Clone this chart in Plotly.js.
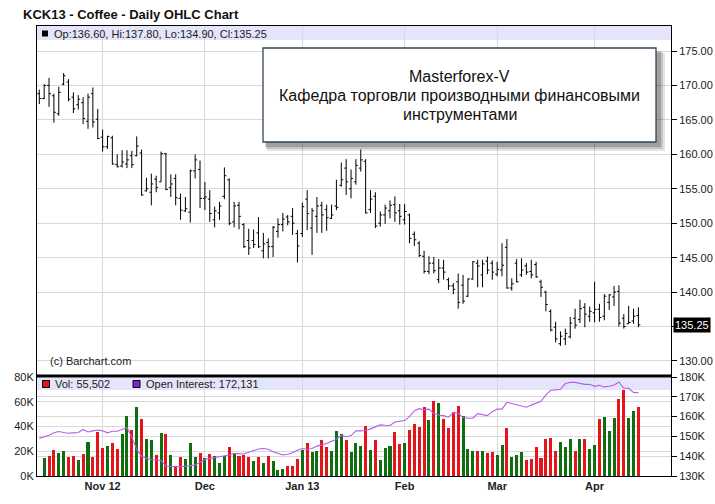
<!DOCTYPE html>
<html>
<head>
<meta charset="utf-8">
<script src="https://cdn.plot.ly/plotly-3.0.1.min.js"></script>
<style>html,body{margin:0;padding:0;background:#fff;}#chart{width:715px;height:504px;}</style>
</head>
<body>
<div id="chart"></div>
<script>
// ---- DATA (trading-day index 0..123, mid-Oct 2012 .. 12 Apr 2013) ----
const opens = [168.8,168.1,170.0,168.5,165.9,170.2,170.5,168.3,167.2,167.5,164.8,168.8,165.1,162.5,161.1,162.4,158.5,158.3,158.6,159.8,
159.8,160.2,154.7,154.5,156.4,156.0,160.1,155.2,156.5,153.6,151.8,151.6,157.6,157.8,153.6,153.5,150.5,151.5,153.9,156.3,
150.2,152.6,149.8,147.5,147.5,148.6,146.0,147.2,146.6,148.8,149.8,150.9,151.0,148.5,148.5,153.5,149.3,151.0,152.6,152.0,
150.7,152.5,155.5,158.0,155.0,156.0,158.0,159.0,152.0,153.9,150.0,151.2,151.8,152.7,151.8,150.5,151.2,148.4,147.1,145.2,
143.0,144.2,141.8,143.5,141.8,140.9,141.5,141.0,139.4,141.9,144.2,142.5,144.5,144.2,142.6,143.2,146.5,140.6,144.2,142.5,
143.8,143.0,144.0,141.5,140.0,137.2,134.9,132.5,133.2,133.5,136.2,136.0,137.8,136.5,137.0,137.5,136.5,138.5,139.3,140.1,
136.2,135.4,135.8,136.60];
const highs = [169.4,170.2,171.1,168.8,169.8,171.8,170.9,169.0,168.6,168.3,168.8,169.7,166.6,163.6,162.7,162.7,160.0,160.6,160.6,160.5,
162.6,160.7,156.6,157.2,156.9,160.4,160.2,157.1,157.1,154.3,153.8,157.8,160.0,159.1,156.0,154.8,152.4,153.1,158.1,156.5,
153.1,153.1,150.0,149.2,149.1,150.9,148.6,147.8,149.6,150.7,151.5,151.2,152.2,149.0,153.0,154.8,152.2,153.8,153.1,152.7,
152.7,156.3,158.8,159.3,157.8,159.3,160.7,159.3,154.8,154.5,151.7,152.7,153.3,153.9,152.8,152.8,151.4,148.8,147.4,146.0,
145.2,145.1,144.8,144.7,142.1,141.3,142.7,142.5,142.0,144.5,144.7,144.7,145.15,144.6,144.4,147.1,147.7,142.0,144.8,144.9,
144.2,144.7,144.4,141.8,140.2,137.5,135.7,134.3,134.7,136.4,137.6,138.9,138.4,137.9,141.5,138.3,139.7,139.7,140.9,141.0,
136.8,138.0,137.6,137.80];
const lows = [167.3,168.0,166.9,164.6,165.6,170.0,167.7,166.0,166.5,164.4,163.7,163.9,162.2,160.4,160.8,158.5,158.1,158.1,158.0,158.0,
159.7,154.0,154.6,152.6,154.5,156.0,154.8,153.8,152.6,150.5,151.6,150.1,156.5,152.2,151.9,150.2,149.4,150.5,153.5,149.7,
149.4,149.1,146.4,145.4,146.4,146.4,144.9,144.9,145.1,147.9,148.8,149.7,148.3,144.3,148.0,149.0,145.4,148.6,148.6,148.9,
150.6,151.9,155.3,154.1,153.6,155.6,157.5,151.4,151.5,149.3,149.5,149.9,150.7,150.2,149.8,149.8,147.1,146.7,145.1,142.7,
142.6,142.7,141.3,141.8,140.3,139.7,137.6,138.3,139.3,141.8,140.7,140.7,142.6,141.8,142.3,142.3,140.5,140.2,141.4,142.2,
142.5,142.0,142.1,139.3,137.2,134.3,132.7,132.2,132.3,133.3,134.7,135.5,134.9,135.7,135.6,135.7,135.9,137.4,138.0,135.0,
134.7,135.4,135.4,134.90];
const closes = [168.1,170.0,168.8,166.1,169.0,171.4,168.0,166.6,168.0,165.2,168.3,164.7,162.3,161.1,162.6,158.6,158.2,158.9,159.2,158.5,
161.2,154.1,155.0,155.7,155.2,160.1,154.9,155.7,153.7,151.9,152.1,157.6,159.2,153.6,153.8,151.4,151.8,152.5,156.9,150.0,
152.5,151.0,146.6,146.4,146.9,146.6,147.0,146.6,149.4,149.8,150.6,150.2,150.0,146.7,152.4,151.4,151.8,152.5,151.2,150.8,
151.2,152.3,156.3,156.0,156.5,158.4,159.2,151.5,153.5,149.6,151.2,152.2,152.6,151.5,151.0,151.7,147.8,147.6,145.3,143.0,
144.2,143.1,143.5,142.9,140.9,140.4,138.5,138.7,141.9,144.4,143.8,144.1,143.2,142.9,143.3,143.9,140.6,141.2,141.5,143.2,
142.9,142.5,142.2,140.7,138.2,134.5,133.2,133.6,134.0,135.5,135.2,137.6,136.8,137.2,137.5,136.3,139.4,139.6,140.0,135.5,
135.0,135.6,136.5,135.25];
const volumes = [null,14500,16000,21000,18500,20000,15500,16000,13000,17700,27400,15300,35500,22600,24200,26600,21800,33900,48400,37100,
55600,46000,29800,29000,17000,34700,33900,17000,8000,15300,13700,26600,15300,18500,14500,17700,16000,10500,16000,23400,
18500,16000,17000,15300,12000,15300,10500,16000,12000,4800,5600,8000,8000,13700,21000,26600,19400,20200,29000,23400,
20200,36300,33900,29000,19400,26600,24000,40800,20800,28800,12800,22700,24000,35200,25600,26400,37300,42400,39200,56000,
45600,60800,59200,46400,38400,52000,56800,48800,21600,20000,20000,20000,18400,19200,16800,24800,38400,15200,16800,19200,
12800,13600,23200,14400,29600,30400,20000,27200,23200,29600,20000,29600,29600,21600,24800,46400,48000,36000,47200,62400,
69600,47200,52800,55502];
const openInterest = [149000,149800,150600,151800,152500,152000,151600,151800,152000,153500,152200,152800,153200,152800,151800,152600,152600,153500,154500,149500,
143500,140000,138900,138300,138000,137800,135000,134700,134700,134700,135000,135000,135500,137000,138300,138900,139300,139700,140200,140600,
141400,141200,141100,142000,143000,143600,143900,143500,142200,141200,140600,141000,141700,143000,143900,143400,143900,145100,145600,146400,
147500,148600,150600,149800,150400,152800,152800,153000,153800,154800,155800,155600,155500,157300,157800,158000,160000,163000,164000,163500,
163800,161500,160800,160500,159700,162000,161700,159500,159200,159200,161500,161000,160500,162500,163800,163800,167200,166600,166000,165300,
164700,165800,166700,167700,171000,173300,173500,173800,176700,177300,177300,176800,176300,176300,175300,175800,175000,175300,176000,177500,
174300,174300,172200,172131];
const monthTickIndex = [13,34,54,75,94,114];
const monthTickText = ['Nov 12','Dec','Jan 13','Feb','Mar','Apr'];
const priceTicks = [130,135,140,145,150,155,160,165,170,175];
const volTicks = [0,20000,40000,60000,80000];
const volTickText = ['0K','20K','40K','60K','80K'];
const oiTicks = [130000,140000,150000,160000,170000,180000];
const oiTickText = ['130K','140K','150K','160K','170K','180K'];
const chartTitle = 'KCK13 - Coffee - Daily OHLC Chart';
const boxLines = ['Masterforex-V','Кафедра торговли производными финансовыми','инструментами'];

// ---- helpers ----
const FONT = 'Liberation Sans, Arial, sans-serif';
const L = 37, R = 671, T = 26, B = 476;
const px = p => (p - L) / (R - L);
const py = p => (B - p) / (B - T);
const idx = closes.map((_, i) => i);
const n = closes.length;
const GREEN = '#0f6e0f', RED = '#e5141a';
const volColors = closes.map((c, i) => (i > 0 && c >= closes[i - 1]) ? GREEN : RED);
const fmt = v => v.toLocaleString('en-US');
const last = n - 1;
const headerText = 'Op:' + opens[last].toFixed(2) + ', Hi:' + highs[last].toFixed(2) +
  ', Lo:' + lows[last].toFixed(2) + ', Cl:' + closes[last].toFixed(2);
// the last-price tag covers the nearest price label, as in the original
const priceTickText = priceTicks.map(v => Math.abs(v - closes[last]) < 2 ? '' : v.toFixed(2));

const traces = [
  {type: 'ohlc', x: idx, open: opens, high: highs, low: lows, close: closes,
   xaxis: 'x', yaxis: 'y', tickwidth: 0.4, hoverinfo: 'none',
   increasing: {line: {color: '#000', width: 1}}, decreasing: {line: {color: '#000', width: 1}}},
  {type: 'bar', x: idx, y: volumes, xaxis: 'x', yaxis: 'y2', width: 0.62,
   marker: {color: volColors, line: {width: 0}}, hoverinfo: 'none'},
  {type: 'scatter', mode: 'lines', x: idx, y: openInterest, xaxis: 'x', yaxis: 'y3',
   line: {color: '#b45ee8', width: 1.1}, hoverinfo: 'none'}
];

const grid = '#d9d9d9';
const tickF = {family: FONT, size: 11, color: '#1a1a1a'};
const shapes = [
  {type: 'rect', xref: 'paper', yref: 'paper', x0: 0, x1: 1, y0: py(40), y1: py(26), fillcolor: '#e5e5fa', line: {width: 0}, layer: 'below'},
  {type: 'rect', xref: 'paper', yref: 'paper', x0: 0, x1: 1, y0: py(390), y1: py(378), fillcolor: '#e5e5fa', line: {width: 0}, layer: 'below'},
  {type: 'rect', xref: 'paper', yref: 'paper', x0: px(42), x1: px(48), y0: py(36.5), y1: py(30.5), fillcolor: '#000', line: {width: 0}},
  {type: 'rect', xref: 'paper', yref: 'paper', x0: px(42.5), x1: px(49.5), y0: py(387.5), y1: py(380.5), fillcolor: RED, line: {color: '#000', width: 1}},
  {type: 'rect', xref: 'paper', yref: 'paper', x0: px(133), x1: px(140), y0: py(387.5), y1: py(380.5), fillcolor: '#8a1fd6', line: {color: '#000', width: 1}},
  {type: 'line', xref: 'paper', yref: 'paper', x0: 0, x1: 1, y0: py(376), y1: py(376), line: {color: '#000', width: 3}},
  {type: 'rect', xref: 'paper', yref: 'paper', x0: px(267), x1: px(665), y0: py(151), y1: py(53), fillcolor: 'rgba(0,0,0,0.10)', line: {width: 0}},
  {type: 'rect', xref: 'paper', yref: 'paper', x0: px(266), x1: px(663), y0: py(149), y1: py(52), fillcolor: 'rgba(0,0,0,0.14)', line: {width: 0}},
  {type: 'rect', xref: 'paper', yref: 'paper', x0: px(265), x1: px(661), y0: py(147), y1: py(51), fillcolor: 'rgba(0,0,0,0.18)', line: {width: 0}},
  {type: 'rect', xref: 'paper', yref: 'paper', x0: px(263), x1: px(656), y0: py(142), y1: py(48), fillcolor: '#ffffff', line: {color: '#2f4457', width: 1.3}}
];

const annotations = [
  {xref: 'paper', yref: 'paper', x: px(52), y: py(33.5), xanchor: 'left', yanchor: 'middle', showarrow: false,
   text: headerText, font: tickF},
  {xref: 'paper', yref: 'paper', x: px(48), y: py(361), xanchor: 'left', yanchor: 'middle', showarrow: false,
   text: '(c) Barchart.com', font: tickF},
  {xref: 'paper', yref: 'paper', x: px(53), y: py(384), xanchor: 'left', yanchor: 'middle', showarrow: false,
   text: 'Vol: ' + fmt(volumes[last]), font: tickF},
  {xref: 'paper', yref: 'paper', x: px(144), y: py(384), xanchor: 'left', yanchor: 'middle', showarrow: false,
   text: 'Open Interest: ' + fmt(openInterest[last]), font: tickF},
  {xref: 'paper', yref: 'y', x: px(673), y: closes[last], xanchor: 'left', yanchor: 'middle', showarrow: false,
   text: closes[last].toFixed(2), bgcolor: '#000', borderpad: 1, font: {family: FONT, size: 11, color: '#fff'}}
];
boxLines.forEach((t, k) => annotations.push({
  xref: 'paper', yref: 'paper', x: px(459.5), y: py(76 + 19 * k), xanchor: 'center', yanchor: 'middle',
  showarrow: false, text: t, font: {family: FONT, size: 16, color: '#111'}
}));

const layout = {
  width: 715, height: 504,
  margin: {l: L, r: 715 - R, t: T, b: 504 - B, pad: 0},
  paper_bgcolor: '#fff', plot_bgcolor: 'rgba(0,0,0,0)',
  showlegend: false,
  title: {text: chartTitle, xref: 'container', yref: 'container', x: 23 / 715, xanchor: 'left',
          y: 1 - 14 / 504, yanchor: 'middle', font: {family: FONT, size: 13, weight: 'bold', color: '#111'}},
  xaxis: {range: [-0.47, 129.69], anchor: 'y2', tickvals: monthTickIndex, ticktext: monthTickText,
          tickfont: {family: FONT, size: 11, weight: 'bold', color: '#222'}, ticks: '',
          showgrid: true, gridcolor: grid, gridwidth: 1, zeroline: false,
          showline: true, linecolor: '#000', linewidth: 1, mirror: 'all',
          rangeslider: {visible: false}, fixedrange: true},
  yaxis: {domain: [py(376), 1], range: [127.82, 178.63], side: 'right', tickvals: priceTicks, ticktext: priceTickText,
          ticks: 'outside', ticklen: 5, tickcolor: '#000', tickfont: tickF,
          showgrid: true, gridcolor: grid, zeroline: false, showline: true, linecolor: '#000', mirror: true},
  yaxis2: {domain: [0, py(377)], range: [0, 80000], side: 'left', tickvals: volTicks, ticktext: volTickText,
           ticks: '', tickfont: tickF, showgrid: true, gridcolor: grid, zeroline: false,
           showline: true, linecolor: '#000'},
  yaxis3: {overlaying: 'y2', side: 'right', anchor: 'x', range: [130000, 180000], tickvals: oiTicks, ticktext: oiTickText,
           ticks: 'outside', ticklen: 5, tickcolor: '#000', tickfont: tickF,
           showgrid: true, gridcolor: grid, zeroline: false, showline: true, linecolor: '#000'},
  shapes: shapes,
  annotations: annotations,
  bargap: 0
};

Plotly.newPlot('chart', traces, layout, {staticPlot: true, displayModeBar: false});
</script>
</body>
</html>
